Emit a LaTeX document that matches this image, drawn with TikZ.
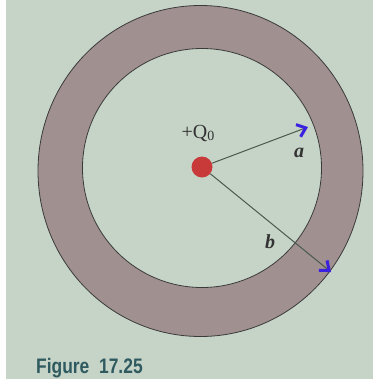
\documentclass[tikz,border=0pt]{standalone}
\usepackage{fontspec}
\setmainfont{Liberation Serif}
\newfontfamily\figfont{Liberation Sans}
\usetikzlibrary{arrows.meta}
\definecolor{bg}{HTML}{C6D3C7}
\definecolor{ring}{HTML}{A09090}
\definecolor{edge}{HTML}{3A3A3A}
\definecolor{rline}{HTML}{4A5A4E}
\definecolor{dotred}{HTML}{C83A3A}
\definecolor{tipblue}{HTML}{3A22E0}
\definecolor{figteal}{HTML}{2E5A60}
\tikzset{
  radius arrow/.style={draw=rline, line width=1pt,
    -{Straight Barb[color=tipblue, line width=3pt, length=8pt, width=13pt]}},
  lbl/.style={font=\fontsize{20}{22}\selectfont\bfseries\itshape, text=black!80},
}
\begin{document}
\begin{tikzpicture}[x=1pt,y=-1pt]
\useasboundingbox (0,0) rectangle (373,381);
\fill[white] (0,0) rectangle (373,381);
\fill[bg] (6,0) rectangle (373,379);
% ring
\draw[edge, line width=0.8pt, fill=ring] (200.5,171) ellipse [x radius=162.5, y radius=165.5];
\draw[edge, line width=0.8pt, fill=bg] (202,168) circle [radius=119.5];
% charge
\node[circle, fill=dotred, minimum size=21pt, inner sep=0pt] (q) at (202,167) {};
\coordinate (ta) at (308,127);
\coordinate (tb) at (331,272);
\draw[radius arrow] (q) -- (ta);
\draw[radius arrow] (q) -- (tb);
\node[font=\fontsize{20}{22}\selectfont, text=black!80] (qlabel) at (198,133) {+Q\raisebox{-0.3ex}{\fontsize{14}{14}\selectfont 0}};
\node[lbl] (alabel) at (299,153) {a};
\node[lbl] (blabel) at (270,242) {b};
\node[anchor=base west, text=figteal, font=\figfont\bfseries\fontsize{21}{23}\selectfont, xscale=0.83, inner sep=0pt] (fig) at (36,373) {Figure\ \ 17.25};
\end{tikzpicture}
\end{document}
